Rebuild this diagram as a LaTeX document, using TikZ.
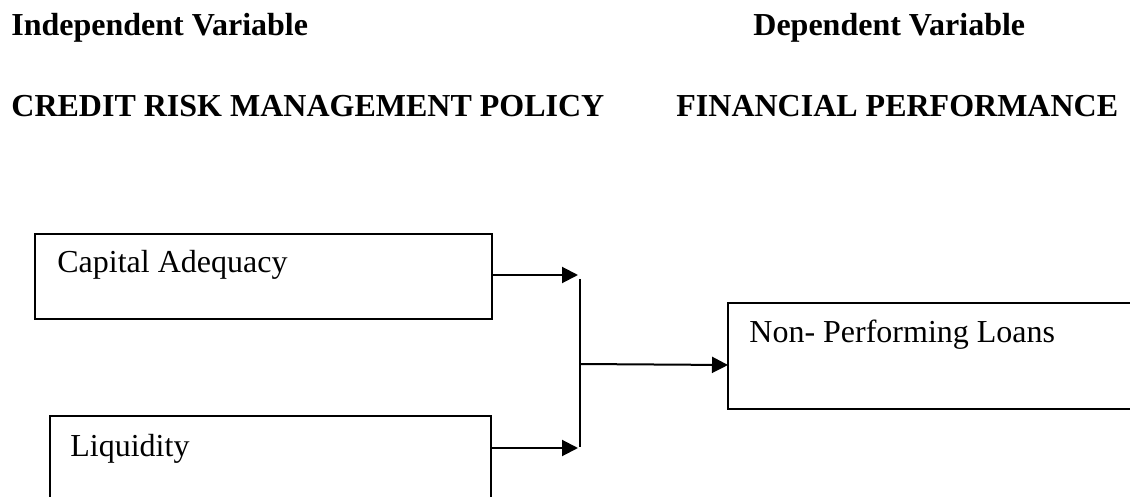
\documentclass[tikz,border=0pt]{standalone}
\usepackage{fontspec}
\setmainfont{Liberation Serif}
\usetikzlibrary{arrows.meta}
\begin{document}
\begin{tikzpicture}[x=0.5pt,y=-0.5pt,
  txt/.style={anchor=base west,inner sep=0pt,font=\fontsize{16pt}{19pt}\selectfont},
  head/.style={txt,font=\fontsize{16pt}{19pt}\selectfont\bfseries},
  boxline/.style={draw,line width=0.75pt},
  conn/.style={line width=1pt},
  arr/.style={conn,-{Triangle[length=8pt,width=8pt]}}]
\useasboundingbox (0,0) rectangle (1130,497);
% headings
\node[head] (iv) at (11,36) {Independent Variable};
\node[head] (dv) at (753,36) {Dependent Variable};
\node[head] (crm) at (11,117) {CREDIT RISK MANAGEMENT POLICY};
\node[head] (fp) at (676,117) {FINANCIAL PERFORMANCE};
% boxes
\draw[boxline] (35,234) rectangle (492,319);
\coordinate (cap) at (492,275);
\node[txt] (captxt) at (57,273) {Capital Adequacy};
\draw[boxline] (491,520) -- (491,416) -- (50,416) -- (50,520);
\coordinate (liq) at (491,448);
\node[txt] (liqtxt) at (70,456) {Liquidity};
\draw[boxline] (1140,303) -- (728,303) -- (728,409) -- (1140,409);
\coordinate (npl) at (728,365);
\node[txt] (npltxt) at (749,343) {Non- Performing Loans};
% connectors
\coordinate (j1) at (578,275);
\coordinate (j2) at (578,448);
\coordinate (vt) at (580,279);
\coordinate (vb) at (580,447);
\coordinate (vm) at (580,364);
\draw[arr] (cap) -- (j1);
\draw[arr] (liq) -- (j2);
\draw[conn] (vt) -- (vb);
\draw[arr] (vm) -- (npl);
\end{tikzpicture}
\end{document}
